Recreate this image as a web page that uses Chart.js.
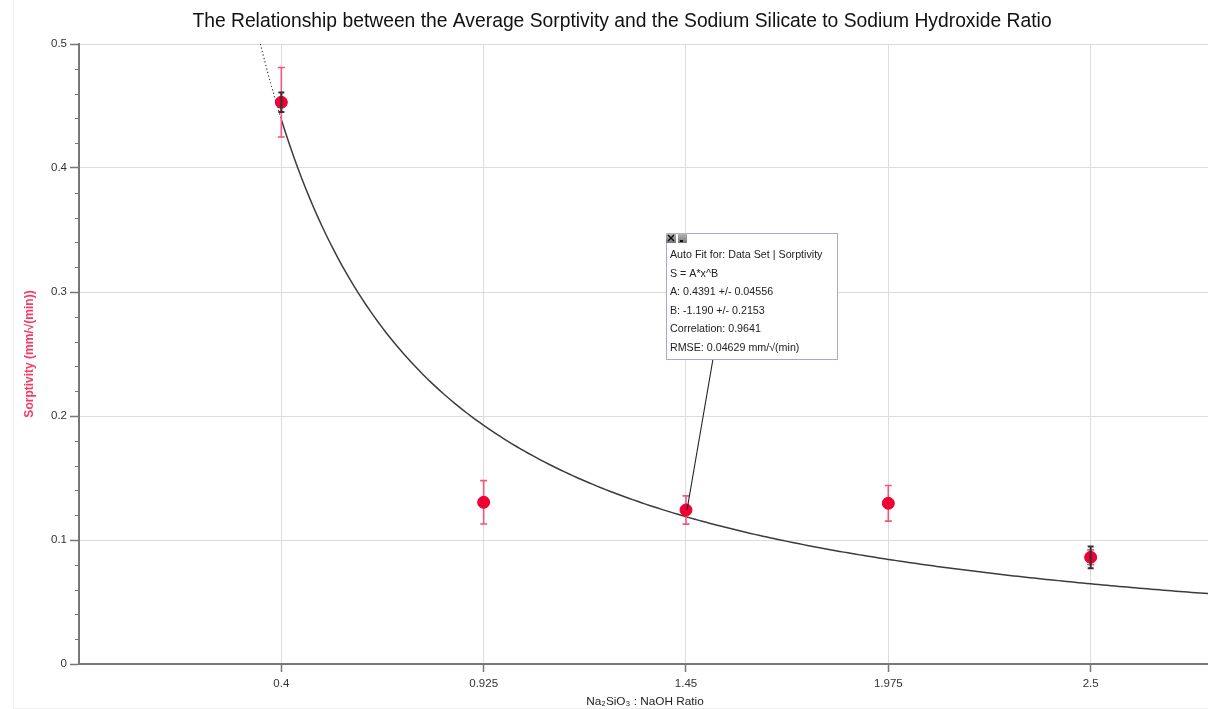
<!DOCTYPE html>
<html><head><meta charset="utf-8">
<script src="https://cdn.jsdelivr.net/npm/chart.js@4.4.0/dist/chart.umd.min.js"></script>
<style>html,body{margin:0;padding:0;background:#fff;}canvas{display:block}</style>
</head><body>
<canvas id="c" width="1208" height="709"></canvas>
<script>
// ---- data ----
const ratioLabels = ['0.4', '0.925', '1.45', '1.975', '2.5'];
const positions = [1, 2, 3, 4, 5];
const sorptivity = [0.453, 0.1304, 0.1242, 0.1296, 0.086];
const errPink = [0.028, 0.0175, 0.0114, 0.0144, 0.006];
const errBlack = [0.0078, null, null, null, 0.0088];
const yTickValues = [0, 0.1, 0.2, 0.3, 0.4, 0.5];
const fitA = 0.4391, fitB = -1.190;
const fitText = ['Auto Fit for: Data Set | Sorptivity', 'S = A*x^B', 'A: 0.4391 +/- 0.04556',
  'B: -1.190 +/- 0.2153', 'Correlation: 0.9641', 'RMSE: 0.04629 mm/\u221A(min)'];
const titleText = 'The Relationship between the Average Sorptivity and the Sodium Silicate to Sodium Hydroxide Ratio';
const xTitle = 'Na\u2082SiO\u2083 : NaOH Ratio';
const yTitle = 'Sorptivity (mm/\u221A(min))';

const X_MIN = 0, X_MAX = 5.58;
// fitted curve S = A*x^B (from displayed fit parameters)
const xStart = Math.pow(0.5 / fitA, 1 / fitB);
const fitDotted = [], fitSolid = [];
for (let x = xStart; x < 1; x += 0.01) fitDotted.push({x, y: fitA * Math.pow(x, fitB)});
fitDotted.push({x: 1, y: fitA});
for (let x = 1; x <= X_MAX + 0.02; x += 0.02) fitSolid.push({x, y: fitA * Math.pow(x, fitB)});

const FONT = '"Liberation Sans", Arial, Helvetica, sans-serif';

const pts = positions.map((p, i) => ({x: p, y: sorptivity[i]}));

function drawErr(ctx, xs, ys, i, err, color, width, cap) {
  if (err[i] == null) return;
  const px = xs.getPixelForValue(positions[i]);
  const top = ys.getPixelForValue(sorptivity[i] + err[i]);
  const bot = ys.getPixelForValue(sorptivity[i] - err[i]);
  ctx.save();
  ctx.strokeStyle = color; ctx.lineWidth = width;
  ctx.beginPath();
  ctx.moveTo(px, top); ctx.lineTo(px, bot);
  ctx.moveTo(px - cap, top); ctx.lineTo(px + cap, top);
  ctx.moveTo(px - cap, bot); ctx.lineTo(px + cap, bot);
  ctx.stroke();
  ctx.restore();
}

const decor = {
  id: 'decor',
  beforeDraw(chart) {
    const ctx = chart.ctx;
    ctx.save();
    ctx.fillStyle = '#fff';
    ctx.fillRect(0, 0, chart.width, chart.height);
    ctx.strokeStyle = '#eeeeee'; ctx.lineWidth = 1;
    ctx.beginPath();
    ctx.moveTo(13.5, 0); ctx.lineTo(13.5, 708.5); ctx.lineTo(chart.width, 708.5);
    ctx.stroke();
    // title
    ctx.fillStyle = '#111';
    ctx.font = '19.3px ' + FONT;
    ctx.textAlign = 'center'; ctx.textBaseline = 'middle';
    ctx.fillText(titleText, 622, 22);
    // x title
    ctx.font = '11.8px ' + FONT;
    ctx.fillStyle = '#222';
    ctx.fillText(xTitle, 645, 702);
    ctx.restore();
  },
  beforeDatasetsDraw(chart) {
    const ctx = chart.ctx, xs = chart.scales.x, ys = chart.scales.y;
    // minor y ticks
    ctx.save();
    ctx.strokeStyle = '#777'; ctx.lineWidth = 1;
    ctx.beginPath();
    for (let k = 1; k < 25; k++) {
      if (k % 5 === 0) continue;
      const py = Math.round(ys.getPixelForValue(k * 0.02)) + 0.5;
      ctx.moveTo(xs.left - 4, py); ctx.lineTo(xs.left, py);
    }
    ctx.stroke();
    ctx.restore();
  },
  beforeDatasetDraw(chart, args) {
    if (args.index !== 2) return;
    const ctx = chart.ctx, xs = chart.scales.x, ys = chart.scales.y;
    for (let i = 0; i < positions.length; i++) drawErr(ctx, xs, ys, i, errPink, 'rgb(244,86,118)', 1.6, 3.5);
  },
  afterDatasetsDraw(chart) {
    const ctx = chart.ctx, xs = chart.scales.x, ys = chart.scales.y;
    for (let i = 0; i < positions.length; i++) drawErr(ctx, xs, ys, i, errBlack, '#333', 2, 3);
    // annotation box anchored to the fit point at 1.45
    const p = chart.getDatasetMeta(2).data[2];
    const L = p.x - 20, T = p.y - 277, W = 171, H = 126;
    ctx.save();
    ctx.strokeStyle = '#222'; ctx.lineWidth = 1.1;
    ctx.beginPath();
    ctx.moveTo(L + 47, T + H); ctx.lineTo(p.x + 1, p.y);
    ctx.stroke();
    ctx.fillStyle = '#fff';
    ctx.fillRect(L, T, W, H);
    ctx.strokeStyle = '#a7a7d6'; ctx.lineWidth = 1;
    ctx.strokeRect(Math.round(L) + 0.5, Math.round(T) + 0.5, W, H);
    // icons
    const g1 = ctx.createLinearGradient(0, T, 0, T + 10);
    g1.addColorStop(0, '#bbb'); g1.addColorStop(1, '#777');
    ctx.fillStyle = g1;
    ctx.fillRect(L, T, 10, 10);
    ctx.fillRect(L + 12, T, 9, 10);
    ctx.strokeStyle = '#111'; ctx.lineWidth = 1.5;
    ctx.beginPath();
    ctx.moveTo(L + 2, T + 2); ctx.lineTo(L + 8, T + 8);
    ctx.moveTo(L + 8, T + 2); ctx.lineTo(L + 2, T + 8);
    ctx.stroke();
    ctx.fillStyle = '#111';
    ctx.fillRect(L + 14, T + 7, 3, 2);
    // text
    ctx.fillStyle = '#222';
    ctx.font = '10.7px ' + FONT;
    ctx.textAlign = 'left'; ctx.textBaseline = 'middle';
    fitText.forEach((t, i) => ctx.fillText(t, L + 4, T + 22 + i * 18.6));
    ctx.restore();
  }
};

new Chart(document.getElementById('c'), {
  data: {
    datasets: [
      {type: 'line', data: fitDotted, borderColor: '#333', borderWidth: 1.1, borderDash: [1.2, 2.4],
        pointRadius: 0, tension: 0, order: 3},
      {type: 'line', data: fitSolid, borderColor: '#3c3c3c', borderWidth: 1.5, pointRadius: 0, tension: 0, order: 2},
      {type: 'scatter', data: pts, backgroundColor: 'rgb(240,0,52)', borderColor: 'rgb(240,0,52)',
        pointRadius: 6, pointHoverRadius: 6, order: 1}
    ]
  },
  options: {
    responsive: false, animation: false, devicePixelRatio: 1,
    layout: {autoPadding: false, padding: {top: 44, left: 0, right: 0, bottom: 0}},
    plugins: {legend: {display: false}, tooltip: {enabled: false}, title: {display: false}},
    scales: {
      x: {
        type: 'linear', min: X_MIN, max: X_MAX,
        afterBuildTicks: s => { s.ticks = positions.map(v => ({value: v})); },
        afterFit: s => { s.height = 45; },
        ticks: {
          callback: v => { const i = positions.indexOf(v); return i >= 0 ? ratioLabels[i] : ''; },
          font: {family: FONT, size: 11.5}, color: '#333', padding: 5, maxRotation: 0, autoSkip: false
        },
        grid: {color: '#dcdcdc', lineWidth: 1, tickLength: 8, tickColor: '#777', tickWidth: 1.5},
        border: {color: '#777', width: 2}
      },
      y: {
        type: 'linear', min: 0, max: 0.5,
        afterBuildTicks: s => { s.ticks = yTickValues.map(v => ({value: v})); },
        afterFit: s => { s.width = 79; },
        ticks: {
          callback: v => (v === 0 ? '0' : v.toFixed(1)),
          font: {family: FONT, size: 11.5}, color: '#333', padding: 3
        },
        grid: {color: '#dcdcdc', lineWidth: 1, tickLength: 9, tickColor: '#777', tickWidth: 1.5},
        border: {color: '#777', width: 2},
        title: {display: true, text: yTitle, color: 'rgb(245,60,100)',
          font: {family: FONT, size: 12, weight: 'bold'}, padding: {top: 22, bottom: 0}}
      }
    }
  },
  plugins: [decor]
});
</script>
</body></html>
